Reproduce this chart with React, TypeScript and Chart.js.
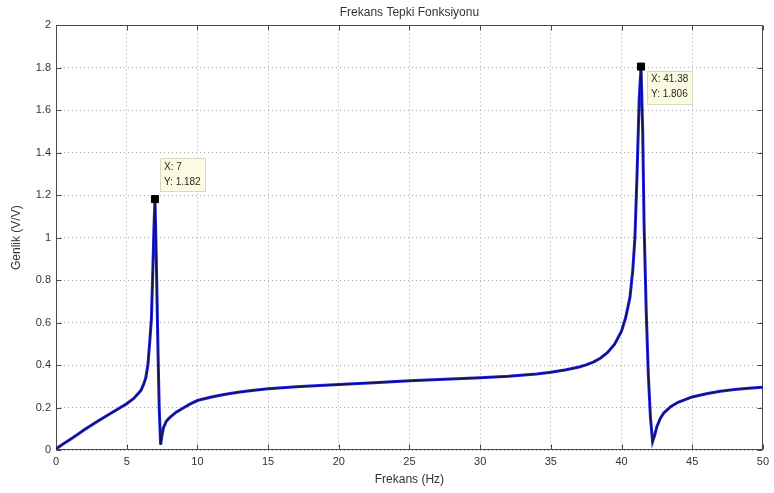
import React, { useEffect, useRef } from 'react';
import { Chart, registerables } from 'chart.js';

Chart.register(...registerables);

// Frequency (Hz) and gain (V/V)
const freq = [
  0, 0.5, 1, 1.5, 2, 2.5, 3, 3.5, 4, 4.5, 5, 5.5, 6, 6.2, 6.35, 6.5, 6.62, 6.75, 6.85, 6.93, 7,
  7.08, 7.15, 7.22, 7.3, 7.4, 7.5, 7.6, 7.8, 8, 8.5, 9, 9.5, 10, 11, 12, 13, 14, 15, 17, 20,
  22.5, 25, 27.5, 30, 32, 34, 35, 36, 37, 37.5, 38, 38.5, 39, 39.5, 40, 40.3, 40.6, 40.8, 40.95,
  41.1, 41.25, 41.38, 41.5, 41.6, 41.75, 41.9, 42.05, 42.2, 42.35, 42.5, 42.75, 43, 43.5, 44,
  45, 46, 47, 48, 49, 50,
];
const gain = [
  0.005, 0.028, 0.05, 0.072, 0.095, 0.117, 0.138, 0.158, 0.178, 0.198, 0.218, 0.243, 0.28, 0.31,
  0.34, 0.4, 0.5, 0.62, 0.85, 1.05, 1.182,
  0.95, 0.7, 0.45, 0.2, 0.025, 0.07, 0.105, 0.135, 0.15, 0.178, 0.198, 0.217, 0.233, 0.25, 0.263,
  0.273, 0.281, 0.288, 0.298, 0.308,
  0.317, 0.326, 0.333, 0.34, 0.347, 0.358, 0.366, 0.377, 0.391, 0.401, 0.414, 0.432, 0.458, 0.497,
  0.56, 0.625, 0.72, 0.85, 1.0,
  1.3, 1.65, 1.806, 1.5, 1.05, 0.65, 0.35, 0.15, 0.04, 0.07, 0.11, 0.15, 0.175, 0.205, 0.225,
  0.25, 0.265, 0.277, 0.285, 0.291, 0.296,
];

// Data tips
const peakFreq = [7, 41.38];
const peakGain = [1.182, 1.806];
const tipLines = [
  ['X: 7', 'Y: 1.182'],
  ['X: 41.38', 'Y: 1.806'],
];

const titleText = 'Frekans Tepki Fonksiyonu';
const xTitle = 'Frekans (Hz)';
const yTitle = 'Genlik (V/V)';
const xMin = 0, xMax = 50, xStep = 5;
const yMin = 0, yMax = 2, yStep = 0.2;

const FONT = '"Liberation Sans", Arial, Helvetica, sans-serif';

const framePlugin = {
  id: 'frame',
  beforeDatasetsDraw(chart: any) {
    const { ctx, chartArea: a, scales } = chart;
    ctx.save();
    ctx.strokeStyle = '#4a4a4a';
    ctx.lineWidth = 1;
    const l = Math.round(a.left) + 0.5, r = Math.round(a.right) - 0.5;
    const t = Math.round(a.top) + 0.5, b = Math.round(a.bottom) - 0.5;
    ctx.strokeRect(l, t, r - l, b - t);
    const L = 5;
    ctx.beginPath();
    scales.x.ticks.forEach((tk: any) => {
      const px = Math.round(scales.x.getPixelForValue(tk.value)) + 0.5;
      ctx.moveTo(px, b); ctx.lineTo(px, b - L);
      ctx.moveTo(px, t); ctx.lineTo(px, t + L);
    });
    scales.y.ticks.forEach((tk: any) => {
      const py = Math.round(scales.y.getPixelForValue(tk.value)) + 0.5;
      ctx.moveTo(l, py); ctx.lineTo(l + L, py);
      ctx.moveTo(r, py); ctx.lineTo(r - L, py);
    });
    ctx.stroke();
    ctx.restore();
  },
};

const tipPlugin = {
  id: 'tips',
  afterDatasetsDraw(chart: any) {
    const { ctx, scales } = chart;
    ctx.save();
    ctx.font = `10px ${FONT}`;
    ctx.textBaseline = 'middle';
    peakFreq.forEach((f, i) => {
      const px = scales.x.getPixelForValue(f);
      const py = scales.y.getPixelForValue(peakGain[i]);
      const lines = tipLines[i];
      const w = Math.max(...lines.map((s) => ctx.measureText(s).width)) + 8;
      let bx, by, h = 33;
      if (i === 0) { bx = px + 5; by = py - 41; }
      else { bx = px + 6; by = py + 4; }
      ctx.fillStyle = '#fbfbe2';
      ctx.fillRect(bx, by, w, h);
      ctx.strokeStyle = '#d8d8c4';
      ctx.lineWidth = 1;
      ctx.strokeRect(Math.round(bx) + 0.5, Math.round(by) + 0.5, Math.round(w), h);
      ctx.fillStyle = '#2a2a2a';
      ctx.fillText(lines[0], bx + 4, by + 9);
      ctx.fillText(lines[1], bx + 4, by + 24);
    });
    ctx.restore();
  },
};

export default function App() {
  const ref = useRef<HTMLCanvasElement | null>(null);
  useEffect(() => {
    if (!ref.current) return;
    const pts = freq.map((f, i) => ({ x: f, y: gain[i] }));
    const peaks = peakFreq.map((f, i) => ({ x: f, y: peakGain[i] }));
    const chart = new Chart(ref.current, {
      type: 'line',
      data: {
        datasets: [
          {
            label: 'peaks',
            data: peaks,
            showLine: false,
            pointStyle: 'rect',
            pointRadius: 5,
            pointBackgroundColor: '#000',
            pointBorderColor: '#000',
          },
          {
            label: 'gain-core',
            data: pts,
            borderColor: '#121245',
            borderWidth: 1.2,
            pointRadius: 0,
            tension: 0,
            fill: false,
          },
          {
            label: 'gain',
            data: pts,
            borderColor: '#1f1fe6',
            borderWidth: 3,
            pointRadius: 0,
            tension: 0,
            fill: false,
          },
        ],
      },
      options: {
        responsive: false,
        animation: false,
        layout: { padding: { top: 0, right: 8, left: 0, bottom: 0 } },
        plugins: {
          legend: { display: false },
          tooltip: { enabled: false },
          title: {
            display: true,
            text: titleText,
            fullSize: false,
            color: '#333',
            font: { family: FONT, size: 12, weight: 'normal' },
            padding: { top: 5, bottom: 6 },
          },
        },
        scales: {
          x: {
            type: 'linear',
            min: xMin,
            max: xMax,
            afterFit: (s: any) => { s.height = 43; },
            ticks: {
              stepSize: xStep,
              color: '#333',
              padding: 5,
              maxRotation: 0,
              font: { family: FONT, size: 11 },
            },
            grid: { color: '#a8a8a8', lineWidth: 1, drawTicks: false },
            border: { display: false, dash: [1, 3] },
            title: {
              display: true,
              text: xTitle,
              color: '#333',
              font: { family: FONT, size: 12 },
              padding: { top: 0, bottom: 6 },
            },
          },
          y: {
            type: 'linear',
            min: yMin,
            max: yMax,
            afterFit: (s: any) => { s.width = 56; },
            ticks: {
              stepSize: yStep,
              color: '#333',
              padding: 5,
              font: { family: FONT, size: 11 },
              callback: (v: any) => String(Number(Number(v).toFixed(1))),
            },
            grid: { color: '#a8a8a8', lineWidth: 1, drawTicks: false },
            border: { display: false, dash: [1, 3] },
            title: {
              display: true,
              text: yTitle,
              color: '#333',
              font: { family: FONT, size: 12 },
              padding: { top: 9, bottom: 0 },
            },
          },
        },
      },
      plugins: [framePlugin, tipPlugin],
    });
    return () => chart.destroy();
  }, []);
  return (
    <div style={{ position: 'absolute', left: 0, top: 0, width: 774, height: 493, background: '#fff' }}>
      <canvas ref={ref} width={774} height={493} />
    </div>
  );
}
